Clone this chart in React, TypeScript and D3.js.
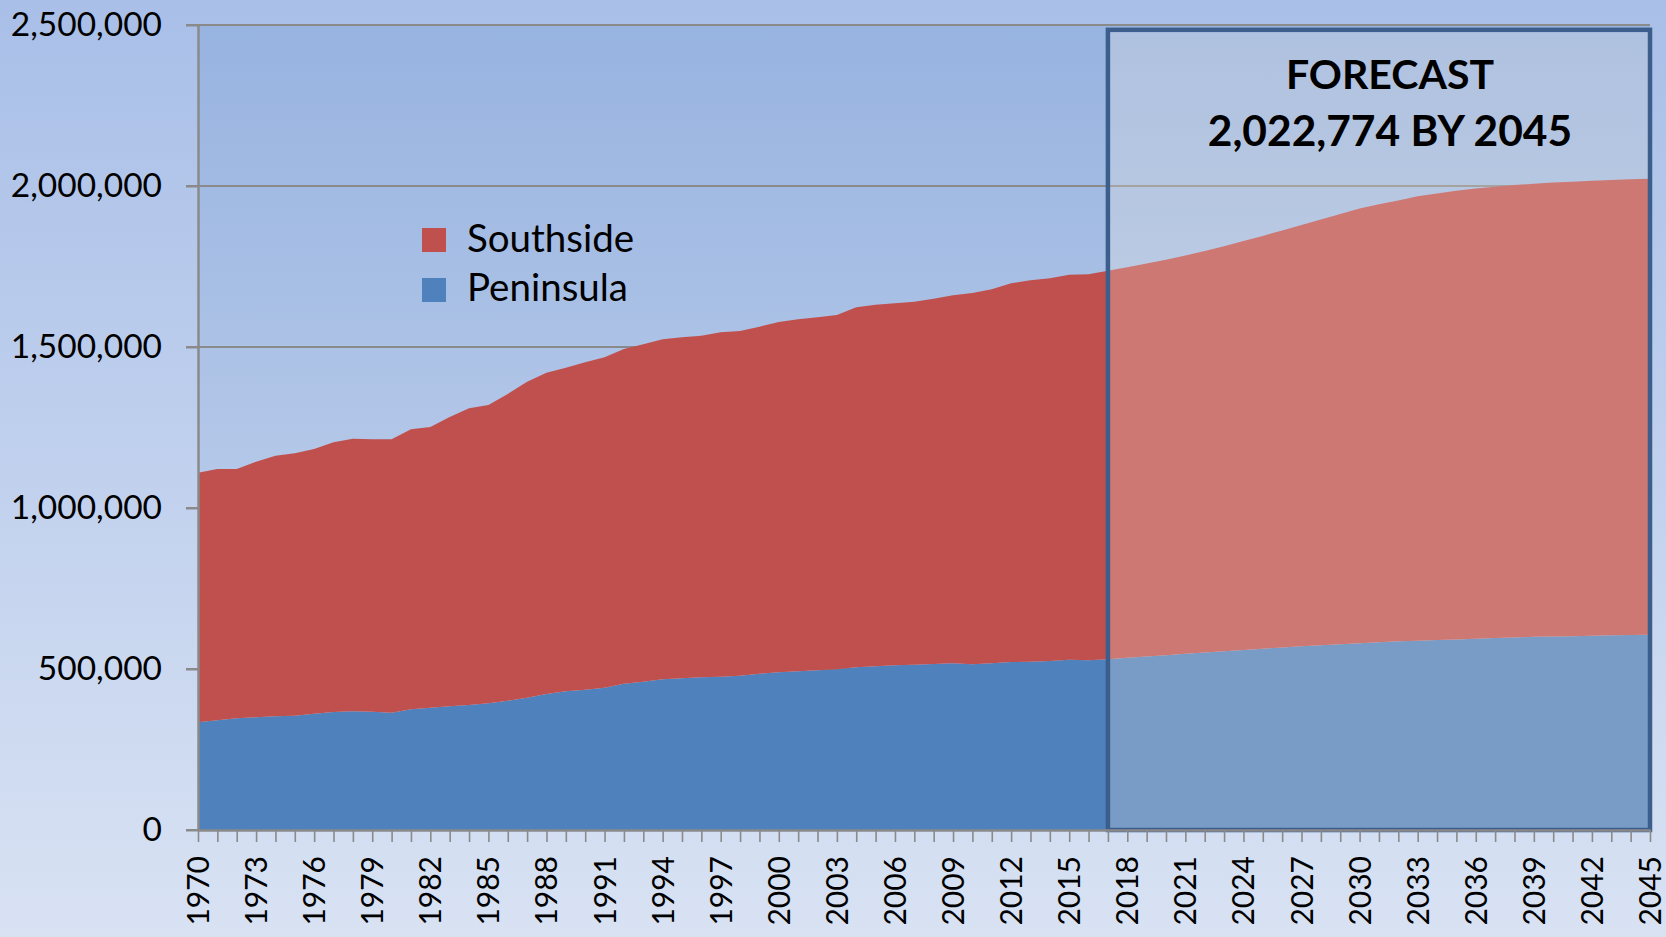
import React, { useEffect, useRef } from 'react';
import * as d3 from 'd3';

// categories
const years = [
  1970, 1971, 1972, 1973, 1974, 1975, 1976, 1977, 1978, 1979,
  1980, 1981, 1982, 1983, 1984, 1985, 1986, 1987, 1988, 1989,
  1990, 1991, 1992, 1993, 1994, 1995, 1996, 1997, 1998, 1999,
  2000, 2001, 2002, 2003, 2004, 2005, 2006, 2007, 2008, 2009,
  2010, 2011, 2012, 2013, 2014, 2015, 2016, 2017, 2018, 2019,
  2020, 2021, 2022, 2023, 2024, 2025, 2026, 2027, 2028, 2029,
  2030, 2031, 2032, 2033, 2034, 2035, 2036, 2037, 2038, 2039,
  2040, 2041, 2042, 2043, 2044, 2045,
];

// series values
const peninsula = [
  334400, 340600, 346800, 349900, 353000, 355100, 361300, 366500, 368600, 367500,
  364300, 374700, 379900, 384200, 388200, 393400, 401600, 411000, 422400, 430600,
  435800, 442000, 454400, 460700, 467900, 471100, 474200, 476100, 479200, 485400,
  489700, 492800, 495900, 499000, 505300, 508400, 511500, 513400, 515500, 517700,
  514600, 517700, 521700, 522700, 524800, 528900, 527000, 530100, 535000, 539000,
  543000, 547000, 551000, 555000, 559000, 563000, 567000, 571000, 574000, 577000,
  580000, 583000, 586000, 588000, 590000, 592000, 594000, 596000, 598000, 600000,
  601000, 602000, 603000, 604500, 605500, 606500,
];

const southside = [
  775200, 780500, 774300, 793900, 809500, 814700, 821900, 837500, 846800, 845800,
  849000, 869600, 871700, 898400, 921300, 926500, 952400, 981400, 997900, 1005200,
  1016600, 1026000, 1039400, 1047700, 1056100, 1058900, 1061000, 1069500, 1070500, 1077700,
  1087900, 1093200, 1096300, 1100400, 1117900, 1123100, 1124100, 1127300, 1134500, 1142800,
  1153100, 1161400, 1176100, 1184400, 1188500, 1195700, 1198800, 1206900, 1213000, 1220000,
  1228000, 1237000, 1247000, 1258000, 1270000, 1282000, 1295000, 1308000, 1322000, 1336000,
  1350000, 1360000, 1369000, 1380000, 1387000, 1393000, 1398000, 1402000, 1405000, 1407000,
  1409500, 1411500, 1413000, 1414000, 1415200, 1416274,
];

// tick labels
const yTicks = [0, 500000, 1000000, 1500000, 2000000, 2500000];
const xLabelYears = [
  1970, 1973, 1976, 1979, 1982, 1985, 1988, 1991, 1994, 1997, 2000, 2003, 2006,
  2009, 2012, 2015, 2018, 2021, 2024, 2027, 2030, 2033, 2036, 2039, 2042, 2045,
];

const forecastStart = 2017;
const forecastEnd = 2045;
const forecastTop = 2485000;
const forecastLines = ['FORECAST', '2,022,774 BY 2045'];

const seriesNames = ['Southside', 'Peninsula'];
const seriesColors: Record<string, string> = { Southside: '#c0504d', Peninsula: '#4f81bd' };

const FONT = 'Lato, "Open Sans", "Noto Sans", sans-serif';

export default function App() {
  const ref = useRef<SVGSVGElement>(null);

  useEffect(() => {
    document.body.style.margin = '0';
    const svg = d3.select(ref.current);
    svg.selectAll('*').remove();

    const W = 1666;
    const H = 937;
    const margin = { top: 25, right: 16, bottom: 107, left: 198 };

    const x = d3.scaleLinear()
      .domain([years[0], years[years.length - 1]])
      .range([margin.left, W - margin.right]);
    const y = d3.scaleLinear()
      .domain([0, 2500000])
      .range([H - margin.bottom, margin.top]);

    // gradients
    const defs = svg.append('defs');
    const bg = defs.append('linearGradient').attr('id', 'bgGrad')
      .attr('x1', 0).attr('y1', 0).attr('x2', 0).attr('y2', 1);
    bg.append('stop').attr('offset', '0%').attr('stop-color', '#a9bfe8');
    bg.append('stop').attr('offset', '100%').attr('stop-color', '#d8e2f3');
    const pg = defs.append('linearGradient').attr('id', 'plotGrad')
      .attr('x1', 0).attr('y1', 0).attr('x2', 0).attr('y2', 1);
    pg.append('stop').attr('offset', '0%').attr('stop-color', '#97b3e0');
    pg.append('stop').attr('offset', '100%').attr('stop-color', '#cbd8ef');

    svg.append('rect').attr('width', W).attr('height', H).attr('fill', 'url(#bgGrad)');
    svg.append('rect')
      .attr('x', x.range()[0]).attr('y', y(2500000))
      .attr('width', x.range()[1] - x.range()[0])
      .attr('height', y(0) - y(2500000))
      .attr('fill', 'url(#plotGrad)');

    // gridlines
    svg.append('g')
      .selectAll('line')
      .data(yTicks)
      .enter().append('line')
      .attr('x1', x.range()[0] - 12)
      .attr('x2', x.range()[1])
      .attr('y1', d => y(d))
      .attr('y2', d => y(d))
      .attr('stroke', '#8a8a8a')
      .attr('stroke-width', 2);

    // stacked areas
    const table = years.map((yr, i) => ({ year: yr, Peninsula: peninsula[i], Southside: southside[i] }));
    const stack = d3.stack<any>().keys(['Peninsula', 'Southside']);
    const layers = stack(table);
    const area = d3.area<any>()
      .x(d => x(d.data.year))
      .y0(d => y(d[0]))
      .y1(d => y(d[1]));

    svg.append('g')
      .selectAll('path')
      .data(layers)
      .enter().append('path')
      .attr('d', area)
      .attr('fill', d => seriesColors[d.key]);

    // forecast box
    svg.append('rect')
      .attr('x', x(forecastStart))
      .attr('y', y(forecastTop))
      .attr('width', x(forecastEnd) - x(forecastStart))
      .attr('height', y(0) - y(forecastTop))
      .attr('fill', 'rgb(242,234,224)')
      .attr('fill-opacity', 0.26)
      .attr('stroke', '#3b5e8c')
      .attr('stroke-width', 4.5);

    const cx = (x(forecastStart) + x(forecastEnd)) / 2 + 11;
    svg.append('g')
      .selectAll('text')
      .data(forecastLines)
      .enter().append('text')
      .attr('x', cx)
      .attr('y', (d, i) => 89 + i * 57)
      .attr('text-anchor', 'middle')
      .attr('font-family', FONT)
      .attr('font-weight', 700)
      .attr('font-size', (d, i) => (i === 0 ? 41 : 42.5))
      .attr('fill', '#000')
      .text(d => d);

    // y axis
    const yAxis = svg.append('g')
      .attr('transform', `translate(${x.range()[0]},0)`)
      .call(d3.axisLeft(y).tickValues(yTicks).tickSize(12).tickSizeOuter(0)
        .tickPadding(24).tickFormat(d3.format(',') as any));
    yAxis.select('.domain').attr('stroke', '#8a8a8a').attr('stroke-width', 2.5);
    yAxis.selectAll('.tick line').attr('stroke', '#8a8a8a').attr('stroke-width', 2);
    yAxis.selectAll('text')
      .attr('font-family', FONT)
      .attr('font-size', 33.5)
      .attr('fill', '#000');

    // x axis
    const xAxis = svg.append('g')
      .attr('transform', `translate(0,${y(0)})`)
      .call(d3.axisBottom(x).tickValues(years).tickSize(12).tickSizeOuter(0)
        .tickFormat((d: any) => (xLabelYears.includes(+d) ? String(d) : '')));
    xAxis.select('.domain').attr('stroke', '#8a8a8a').attr('stroke-width', 2.5);
    xAxis.selectAll('.tick line').attr('stroke', '#8a8a8a').attr('stroke-width', 1.6);
    xAxis.selectAll('text')
      .attr('transform', 'rotate(-90)')
      .attr('x', -26)
      .attr('y', 0)
      .attr('dy', '0.35em')
      .attr('text-anchor', 'end')
      .attr('font-family', FONT)
      .attr('font-size', 30)
      .attr('fill', '#000');

    // legend
    const legend = svg.append('g').attr('transform', 'translate(422,228)');
    legend.selectAll('rect')
      .data(seriesNames)
      .enter().append('rect')
      .attr('x', 0)
      .attr('y', (d, i) => i * 50)
      .attr('width', 24)
      .attr('height', 24)
      .attr('fill', d => seriesColors[d]);
    legend.selectAll('text')
      .data(seriesNames)
      .enter().append('text')
      .attr('x', 45)
      .attr('y', (d, i) => i * 49 + 24)
      .attr('font-family', FONT)
      .attr('font-size', 38.5)
      .attr('fill', '#000')
      .text(d => d);
  }, []);

  return (
    <svg
      ref={ref}
      width={1666}
      height={937}
      style={{ display: 'block', position: 'absolute', left: 0, top: 0 }}
    />
  );
}
